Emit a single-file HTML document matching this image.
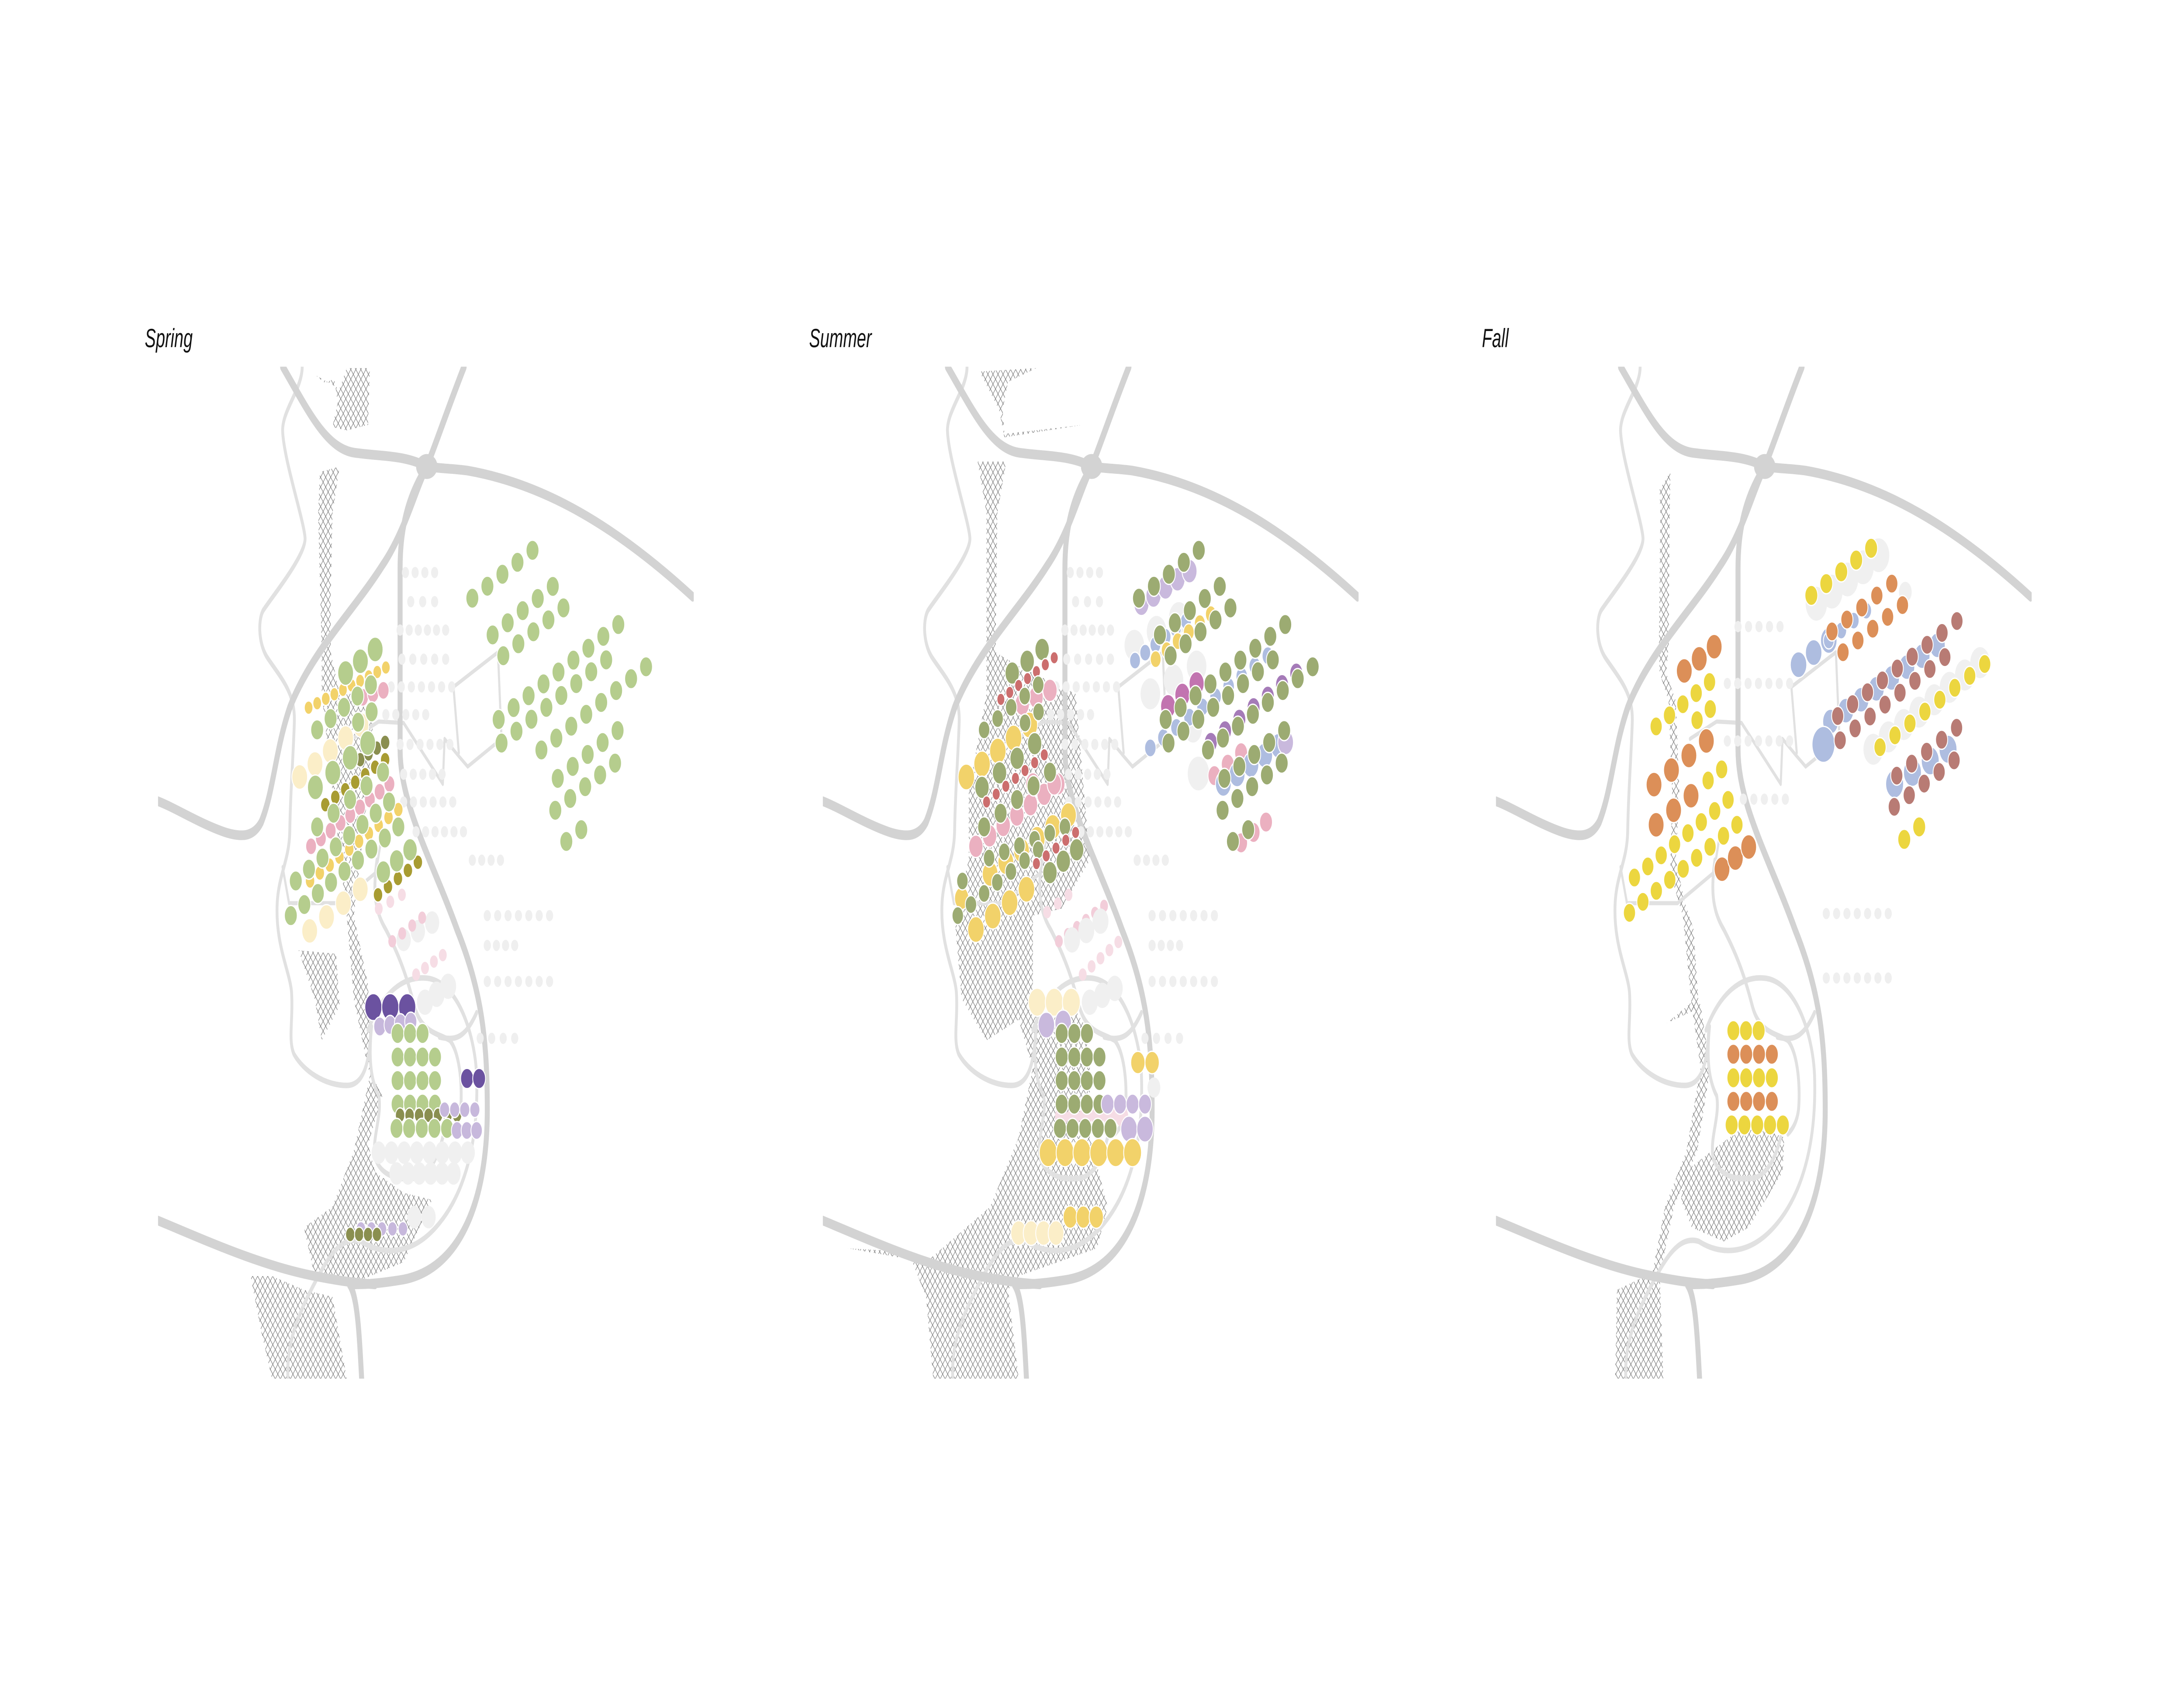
<!DOCTYPE html>
<html><head><meta charset="utf-8">
<style>
html,body{margin:0;padding:0;background:#fff;overflow:hidden;width:100%;height:100%;}
svg{display:block;width:100vw;height:100vh;}
text{font-family:"Liberation Sans",sans-serif;font-style:italic;font-size:60px;fill:#111;}
</style></head>
<body>
<svg id="s" xmlns="http://www.w3.org/2000/svg" viewBox="0 0 7917 3863" preserveAspectRatio="none">
<defs>
<pattern id="h" width="10" height="10" patternUnits="userSpaceOnUse" patternTransform="rotate(45)">
<path d="M0,5H10M5,0V10" stroke="#7a7a7a" stroke-width="1.1" fill="none"/>
</pattern>
<clipPath id="c"><rect x="10" y="88" width="1505" height="1460"/></clipPath>
<g id="base" fill="none" stroke-linecap="round" stroke-linejoin="round">
 <g stroke="#e1e1e1" stroke-width="8">
  <path d="M415,88 C415,120 360,150 360,180 C362,220 420,310 423,335 C426,360 330,420 305,440 C290,455 292,490 320,510 C360,540 395,560 393,600 C390,650 382,700 380,760 C378,800 350,820 345,860 C338,920 380,960 385,990 C390,1030 375,1060 392,1080 C420,1105 480,1125 540,1125 C590,1125 605,1090 608,1040"/>
  <path d="M600,1045 C640,990 700,968 760,970 C850,972 900,1050 905,1110 C912,1220 860,1290 790,1330 C720,1370 640,1370 580,1350 C520,1340 480,1380 440,1420 C400,1460 370,1500 375,1548"/>
  <path d="M610,1040 C600,1090 610,1120 630,1140 C640,1170 610,1200 620,1230 C640,1260 700,1262 740,1258 C780,1250 800,1220 810,1200"/>
  <path d="M625,800 C615,840 615,870 650,900 C690,940 710,970 730,1010 C750,1050 800,1050 830,1060 C860,1080 865,1130 860,1160 C855,1180 840,1190 830,1195"/>
  <path d="M800,1055 C840,1060 870,1060 905,1020"/>
  <path d="M555,625 L630,600 L700,602 L810,690 L815,625 L855,650 L880,665 L975,625 L965,500 L840,550 L855,645" stroke-width="6"/>
  <path d="M360,810 L378,862 L520,862 L622,818 L640,760" stroke-width="6"/>
 </g>
 <g stroke="#d3d3d3" stroke-width="14">
  <path d="M360,88 C430,150 480,205 560,212 C640,218 700,215 765,232"/>
  <path d="M765,232 C790,200 830,140 870,88"/>
  <path d="M765,232 C800,235 840,235 880,238 C1100,258 1300,320 1512,420"/>
  <path d="M765,232 C720,270 690,310 690,380 L690,640 C690,720 780,800 850,900 C920,990 935,1060 935,1160 C935,1300 850,1390 700,1405 C620,1412 580,1412 550,1412"/>
  <path d="M765,232 C730,270 700,330 640,375 C560,440 440,500 380,580 C340,640 335,700 300,745 C280,765 250,768 200,760 C130,748 60,725 10,715"/>
  <path d="M10,1320 C150,1350 300,1385 450,1400 C520,1407 560,1410 620,1412"/>
  <path d="M548,1412 C570,1430 575,1480 582,1548"/>
 </g>
 <ellipse cx="765" cy="232" rx="30" ry="18" fill="#d3d3d3"/>
</g>
</defs>

<g transform="translate(560,700) scale(1.2903,1.5871)" clip-path="url(#c)">
 <g fill="url(#h)">
  <path d="M452,100 L480,112 L505,105 L515,140 L500,175 L540,180 L600,172 L605,90 L540,90 L520,120 Z"/>
  <path d="M465,240 L520,232 L500,300 L495,420 L495,500 L520,560 L620,560 L600,700 L560,880 L600,980 L610,1100 L560,1220 L500,1300 L420,1330 L450,1400 L560,1410 L700,1380 L780,1290 L700,1280 L620,1250 L600,1210 L640,1140 L600,1100 L560,1000 L540,880 L500,700 L470,560 L470,500 L460,300 Z"/>
  <path d="M405,930 L510,935 L520,1010 L470,1060 L450,1000 Z"/>
  <path d="M270,1400 L330,1400 L420,1420 L500,1430 L540,1548 L330,1548 L300,1480 Z"/>
 </g>
 <use href="#base"/>
</g>
<g transform="translate(2970,700) scale(1.2903,1.5871)" clip-path="url(#c)">
 <g fill="url(#h)">
  <path d="M450,95 L610,90 L530,110 L515,150 L520,185 L740,172 L520,190 L505,150 L470,115 Z"/>
  <path d="M445,225 L525,225 L500,300 L495,500 L560,520 L720,560 L760,800 L680,870 L600,880 L600,1000 L700,1000 L760,1050 L760,1200 L810,1300 L780,1360 L560,1400 L530,1420 L560,1548 L320,1548 L300,1430 L250,1365 L80,1360 L300,1380 L480,1300 L560,1200 L600,1100 L560,1030 L470,1060 L400,1000 L380,880 L420,800 L420,700 L470,560 L470,300 Z"/>
 </g>
 <use href="#base"/>
</g>
<g transform="translate(5410,700) scale(1.2903,1.5871)" clip-path="url(#c)">
 <g fill="url(#h)">
  <path d="M470,265 L500,240 L498,300 L495,490 L488,530 L515,570 L525,700 L515,800 L540,860 L565,900 L578,1000 L585,1010 L612,1100 L575,1220 L510,1300 L470,1400 L480,1548 L345,1548 L350,1420 L450,1395 L485,1300 L545,1220 L585,1100 L560,1010 L535,880 L500,820 L505,700 L495,570 L470,530 L468,490 L472,300 Z"/>
  <path d="M490,1035 L560,1005 L575,1015 Z"/>
  <path d="M540,1250 L640,1210 L720,1180 L820,1200 L815,1250 L720,1330 L650,1350 L560,1330 L530,1290 Z"/>
 </g>
 <use href="#base"/>
</g>

<text x="525" y="795">Spring</text>
<text x="2933" y="795">Summer</text>
<text x="5372" y="795">Fall</text>

<g id="dots"></g>
</svg>
<script>
(function(){
var GH='#efefef',GB='#f0f0f0',LG='#b5cd8d',OL='#9cab72',DO='#8a8f50',OY='#a89c32',Y='#f2d26a',C='#fbeec8',P='#ebb0c0',R='#cc6e6e',PD='#6b52a0',LP='#c7b8dc',BL='#aebde0',MG='#c274b0',PM='#a57bb8',FP='#f6dde5',FP2='#f2cdd9',FY='#ecd63f',FO='#dc8f58',FB='#b87b74';
var ghost=[[705,385,787,385,4],[720,427,787,427,3],[690,468,818,468,6],[695,510,818,510,5],[665,550,835,550,7],[650,590,762,590,5],[690,633,830,633,6],[700,676,808,676,5],[700,716,838,716,6],[735,759,868,759,6],[893,800,972,800,4],[935,880,1110,880,7],[935,923,1012,923,4],[935,975,1110,975,7],[915,1057,1012,1057,4]].map(function(r){return r.concat([20,GH]);});
var spring=ghost.concat([
[630,870,695,850,3,22,FP],[700,915,780,890,3,40,GB],[668,917,752,883,4,22,FP2],[760,1005,825,982,3,45,GB],[735,965,810,937,4,22,FP],
[630,1222,880,1222,8,40,GB],[680,1252,840,1252,6,40,GB],[730,1315,770,1315,2,40,GB],
[408,680,580,605,5,44,C],[436,902,578,842,4,44,C],
[440,780,660,690,9,30,P],[585,565,643,555,3,32,P],
[433,580,650,522,10,24,Y],[437,830,685,727,10,26,Y],
[537,530,620,496,3,44,LG],[457,612,608,547,5,36,LG],[572,601,610,586,2,36,LG],
[578,655,648,630,4,26,DO],[480,720,648,655,7,26,OY],
[452,695,599,631,4,44,LG],[457,752,642,673,5,36,LG],[472,797,659,716,6,36,LG],[496,832,685,752,6,36,LG],[434,813,434,813,1,36,LG],
[628,850,740,803,5,26,OY],[643,817,718,785,3,40,LG],[383,880,459,848,3,36,LG],[397,830,397,830,1,36,LG],
[615,1012,710,1012,3,48,PD],[633,1040,720,1033,4,34,LP],
[683,1050,753,1050,3,36,LG],[683,1084,788,1084,4,36,LG],[683,1118,788,1118,4,36,LG],[683,1152,788,1152,4,36,LG],
[690,1168,850,1168,7,26,DO],[680,1187,822,1187,5,36,LG],
[815,1160,900,1160,4,28,LP],[850,1190,905,1190,3,32,LP],[878,1115,912,1115,2,36,PD],
[580,1332,698,1332,5,26,LP],[550,1340,625,1340,4,26,DO],
[893,422,1062,353,5,36,LG],[950,475,1119,405,5,36,LG],[980,505,1149,436,5,36,LG],[967,597,1303,460,9,36,LG],[975,631,1269,511,8,36,LG],[1087,641,1381,521,8,36,LG],[1133,682,1301,613,5,36,LG],[1126,728,1294,660,5,36,LG],[1157,773,1199,756,2,36,LG]
]);
var summer=ghost.concat([
[885,490,1010,450,3,55,GB],[930,560,1060,520,3,55,GB],[1065,675,1065,675,1,60,GB],[1050,610,1050,610,1,50,GB],
[905,430,1040,383,5,42,'#c9b9dd'],[887,512,1030,455,6,30,BL],[945,510,1100,445,6,30,Y],
[898,422,1066,353,5,36,OL],[957,475,1125,405,5,36,OL],[987,505,1155,436,5,36,OL],
[980,578,1060,545,3,42,MG],[930,638,1260,505,10,32,BL],[1100,630,1340,530,7,36,PM],
[973,597,1309,460,9,36,OL],[981,631,1274,511,8,36,OL],[1092,641,1386,521,8,36,OL],
[1110,678,1185,645,3,36,P],[1185,775,1255,745,3,36,P],[1135,690,1290,635,5,44,BL],[1310,630,1310,630,1,44,'#c9b9dd'],
[1138,682,1306,613,5,36,OL],[1133,728,1299,660,5,36,OL],[1162,773,1205,756,2,36,OL],
[640,875,700,850,3,22,FP],[673,917,800,866,6,22,FP2],[710,915,790,888,3,45,GB],[740,965,840,918,5,22,FP],[760,1005,830,985,3,45,GB],
[413,680,590,605,5,46,Y],[440,900,582,842,4,46,Y],[480,820,700,735,6,44,Y],[400,855,400,855,1,40,Y],
[440,780,670,690,7,40,P],[570,575,648,555,3,40,P],[600,690,660,690,2,40,P],
[542,530,626,496,3,40,OL],[510,568,660,508,7,22,R],
[463,612,615,547,5,32,OL],[578,602,616,586,2,32,OL],[457,695,605,632,4,40,OL],
[470,716,632,648,7,22,R],
[463,752,648,673,5,36,OL],[477,797,690,752,6,32,OL],[500,832,615,785,4,32,OL],[648,818,723,785,3,40,OL],[402,830,402,830,1,32,OL],[426,864,463,848,2,32,OL],[389,880,389,880,1,32,OL],
[610,805,720,760,5,22,R],
[612,1005,708,1005,3,50,C],[638,1038,685,1035,2,46,'#c9b9dd'],[680,1170,850,1170,6,36,FP],
[681,1050,752,1050,3,36,OL],[681,1084,787,1084,4,36,OL],[681,1118,787,1118,4,36,OL],[681,1152,787,1152,4,36,OL],[676,1187,818,1187,5,36,OL],
[810,1152,915,1152,4,36,'#c9b9dd'],[870,1188,915,1188,2,46,'#c9b9dd'],[895,1092,935,1092,2,40,Y],[940,1128,940,1128,1,36,GB],
[643,1222,880,1222,6,50,Y],[705,1315,778,1315,3,40,Y],[560,1338,665,1338,4,44,C]
]);
var fall=[[690,463,808,463,5],[660,545,835,545,7],[660,628,835,628,7],[705,712,823,712,5],[938,877,1112,877,7],[938,970,1112,970,7]].map(function(r){return r.concat([20,GH]);}).concat([
[910,430,1085,360,5,60,GB],[1070,640,1370,515,8,55,GB],[1160,413,1160,413,1,36,GB],
[896,418,1064,350,5,36,FY],
[860,518,945,483,3,46,BL],[945,483,1050,440,4,30,BL],
[954,470,1122,401,5,34,FO],[985,500,1152,432,5,34,FO],
[950,600,1250,490,8,44,BL],[930,633,930,633,1,64,BL],
[970,592,1305,455,9,34,FB],[977,627,1271,507,8,34,FB],
[1089,637,1383,517,8,34,FY],
[1130,690,1280,640,4,50,BL],
[1136,678,1304,609,5,34,FB],[1129,723,1297,656,5,34,FB],
[1157,770,1199,752,2,36,FY],
[539,527,623,492,3,44,FO],[460,607,610,543,5,34,FY],[575,598,612,582,2,34,FY],
[454,691,601,628,4,44,FO],[606,685,644,669,2,34,FY],[460,749,558,707,3,44,FO],
[399,825,662,713,8,34,FY],[385,876,687,749,9,34,FY],[645,813,720,781,3,44,FO],
[677,1046,748,1046,3,36,FY],[677,1080,785,1080,4,36,FO],[677,1114,785,1114,4,36,FY],[677,1148,785,1148,4,36,FO],[672,1182,816,1182,5,36,FY]
]);
var g=document.getElementById('dots'),NS='http://www.w3.org/2000/svg';
function add(X0,rows){
 rows.forEach(function(r){
  var n=r[4],d=r[5],c=r[6];
  for(var i=0;i<n;i++){
   var t=n>1?i/(n-1):0;
   var x=r[0]+(r[2]-r[0])*t,y=r[1]+(r[3]-r[1])*t;
   var e=document.createElementNS(NS,'circle');
   e.setAttribute('cx',(X0+x*1.2903).toFixed(1));
   e.setAttribute('cy',(700+y*1.5871).toFixed(1));
   e.setAttribute('r',(d*1.2903/2).toFixed(1));
   e.setAttribute('fill',c);
   if(c!==GH&&c!==GB&&c!==FP&&c!==FP2){e.setAttribute('stroke','#fff');e.setAttribute('stroke-width','3');}
   g.appendChild(e);
  }
 });
}
add(560,spring);add(2970,summer);add(5410,fall);
})();
</script>
</body></html>
